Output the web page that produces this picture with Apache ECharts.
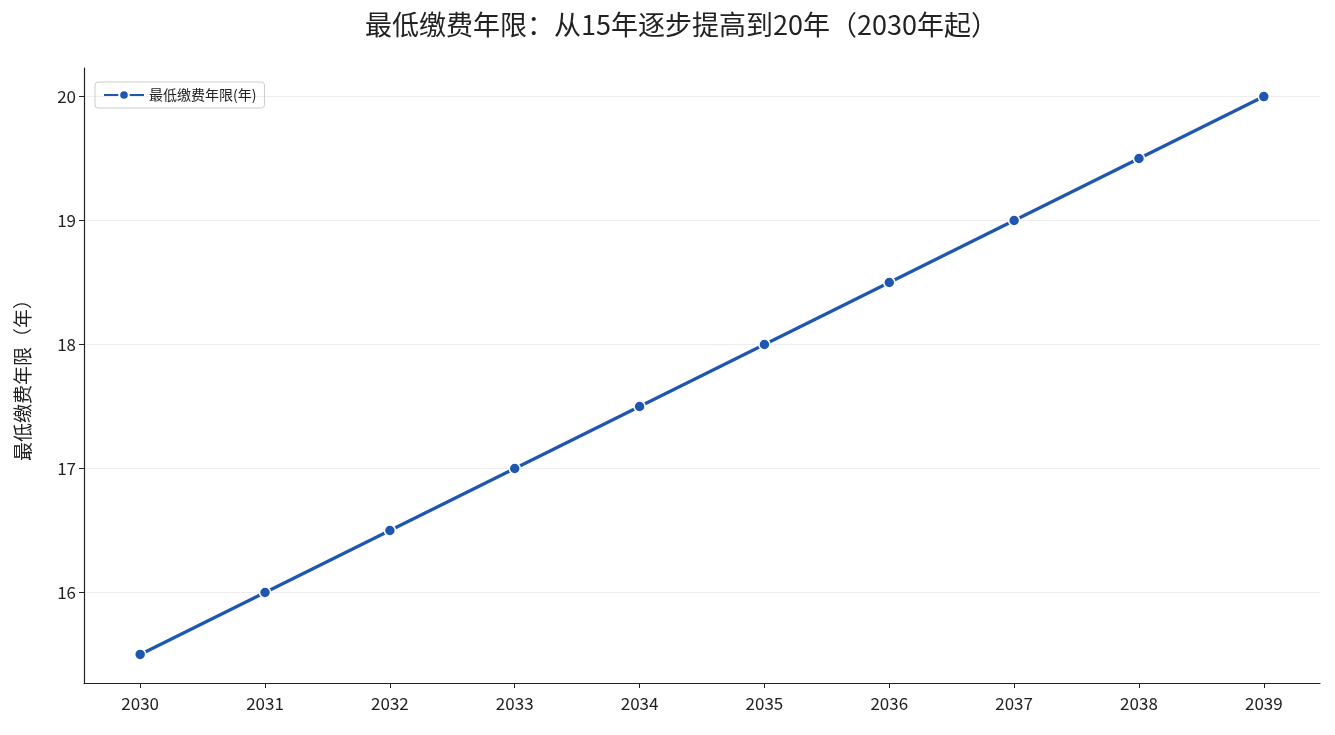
<!DOCTYPE html>
<html><head><meta charset="utf-8">
<script src="https://cdn.jsdelivr.net/npm/echarts@6/dist/echarts.min.js"></script>
<style>html,body{margin:0;padding:0;background:#fff}#c{width:1335px;height:735px}</style>
</head><body><div id="c"></div>
<script>
const years = [2030,2031,2032,2033,2034,2035,2036,2037,2038,2039];
const minYears = [15.5,16,16.5,17,17.5,18,18.5,19,19.5,20];
const yTicks = [16,17,18,19,20];
const font = '"Noto Sans CJK SC", "Noto Sans", sans-serif';
const chart = echarts.init(document.getElementById('c'));
chart.setOption({
  textStyle:{fontFamily:font},
  title:{text:'最低缴费年限：从15年逐步提高到20年（2030年起）',left:360,top:6,
    textStyle:{fontFamily:font,fontSize:27,fontWeight:'normal',color:'#222'}},
  legend:{left:95,top:82,itemWidth:40,itemHeight:12,orient:'vertical',
    borderColor:'#ccc',borderWidth:1,borderRadius:3,padding:[6,8],
    textStyle:{fontFamily:font,fontSize:14,color:'#222'}},
  grid:{left:84,right:15,top:68,bottom:52},
  xAxis:{type:'value',min:2029.55,max:2039.45,
    axisLine:{lineStyle:{color:'#222',width:1.2}},
    axisTick:{show:true,customValues:years,lineStyle:{color:'#222'}},
    axisLabel:{customValues:years,fontFamily:font,fontSize:17,color:'#222',margin:12,formatter:v=>String(v)},
    splitLine:{show:false}},
  yAxis:{type:'value',min:15.27,max:20.23,
    name:'最低缴费年限（年）',nameLocation:'middle',nameGap:52,
    nameTextStyle:{fontFamily:font,fontSize:19,color:'#222'},
    axisLine:{show:true,lineStyle:{color:'#222',width:1.2}},
    axisTick:{show:true,customValues:yTicks,lineStyle:{color:'#222'}},
    axisLabel:{customValues:yTicks,fontFamily:font,fontSize:17,color:'#222'},
    splitLine:{show:true,lineStyle:{color:'#eee'}}},
  series:[{name:'最低缴费年限(年)',type:'line',data:years.map((y,i)=>[y,minYears[i]]),
    symbol:'circle',symbolSize:11,
    lineStyle:{color:'#1f57b0',width:3.2},
    itemStyle:{color:'#1f57b0',borderColor:'#fff',borderWidth:1.5}}]
});
</script></body></html>
